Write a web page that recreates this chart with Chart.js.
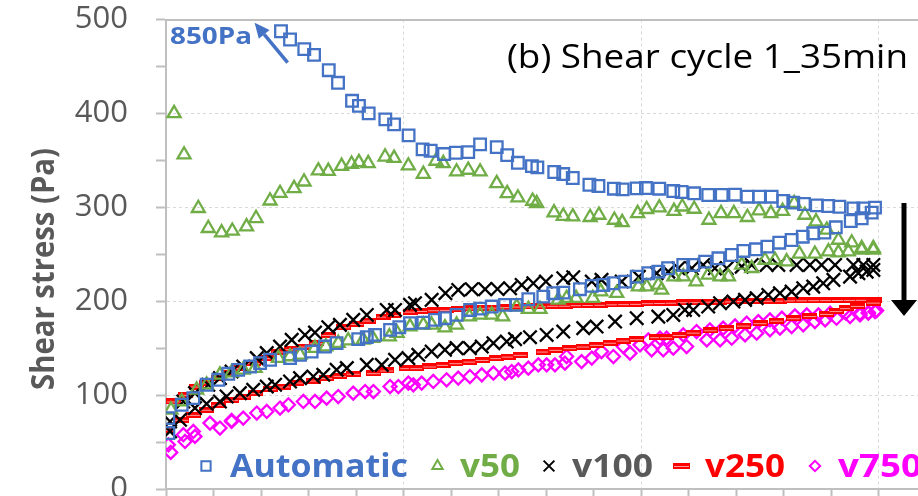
<!DOCTYPE html>
<html><head><meta charset="utf-8">
<script src="https://cdn.jsdelivr.net/npm/chart.js@4.4.1/dist/chart.umd.min.js"></script>
<style>html,body{margin:0;padding:0;background:#fff;overflow:hidden}#wrap{width:918px;height:496px;position:relative}</style>
</head><body><div id="wrap"><canvas id="c" width="918" height="496"></canvas></div>
<script>
// ---------------- data (x = shear rate units, y = shear stress Pa) ----------------
const seriesNames = ['Automatic', 'v50', 'v100', 'v250', 'v750'];
const yTickLabels = ['0', '100', '200', '300', '400', '500'];
const chartTitle = '(b) Shear cycle 1_35min';
const yAxisTitle = 'Shear stress (Pa)';
const offChartNote = '850Pa';

const autoX = [48.4,52.2,58.2,62.3,68.5,72.4,78.3,81.2,85.3,92.3,96,102.1,108,111.4,117,122,127.2,132.2,139.2,143.6,148.1,154,156.3,163.4,167.2,171.2,178.2,182,188.5,192.2,198.1,202,207.6,213.5,217,222.3,228.2,233.9,239.5,244.7,249.7,254.9,259.8,264,268.5,273.9,278.7,283.4,289.3,293.5,298.4,
  1,1,6.6,11.5,17.1,22,26.2,30.4,35.4,39.6,43.8,52.2,56.4,61.3,66.9,71.8,80.9,84.5,88,94.3,98.2,102.7,108.3,113.2,117.4,122.3,128,132.2,137.1,142.7,147.3,152.5,158.8,163,167.2,174.2,179.2,184.1,188.3,193.2,198.1,203,207.2,211.3,217.7,221.9,226.9,232.5,238.1,243,248.3,253.1,258.1,263.3,268,272.4,277.1,281.9,288.2,292.8,297];
const autoY = [487.5,478.7,468.4,462.3,446,432.6,413.4,408,400,393.6,388.3,376.6,361.7,360.2,356.7,358.1,358.8,367,364.1,355.6,347.4,343.9,342.5,337.6,335.4,331.2,324,322.7,319.8,319.1,320.2,320.5,319.8,317.3,316.3,314.9,313.1,313.1,313.4,311.3,311.3,311.3,306.7,305,303.5,302.1,301.4,300.6,298.9,298.9,299.6,
  59.6,75.5,89.7,96.8,111,116.3,122.7,126.9,130.4,134,137.6,139.4,142.9,146.4,151.7,155.3,159.6,161.7,164.1,169.5,172.3,176.6,177.2,180.1,181.9,185.4,190.7,192.1,194.3,196.1,196.1,202.1,204.9,208.5,209.1,212.8,216.3,217.3,219.1,220.9,226.2,229.8,231.5,235.1,238.6,238.6,242.1,245.7,249.2,253.5,255.3,258.1,262.3,265.2,268.7,272.3,273,278.7,285.4,288.3,294.3];

const v50X = [3.4,7.6,13.6,17.8,23.4,27.9,33.9,37.9,43.8,48,53.9,58.1,64.1,68.3,73.9,78.1,81.2,85.1,92.2,96,102,108.3,113.6,116.7,122.3,127.2,132.2,139.2,143.6,148.1,154.3,156,163.3,167.2,171.2,178.5,182.2,188.7,192,198.5,202.3,207.6,213.8,217.3,222.3,228.5,233.6,239,244.7,249.6,254.6,259.5,264.4,268.9,273.6,278.1,283,288.6,292.8,297.7,
  2.1,6.6,12.9,17.1,22.7,27.6,32.5,37.5,47.3,52.2,56.4,62.7,67.3,72.5,76.7,83,87,94,97.3,102.7,108.3,111.8,117.4,122.3,127.7,132.2,137.1,141.7,147.6,152.5,157.4,165.1,168.6,172.6,179.6,183,189.7,198.8,202.3,207.2,208.6,213.8,217.7,223.1,228.2,233.2,236.7,242.3,246.5,252.1,256.3,261.2,266.6,273.1,278.8,283,287.2,292.8,297.7];
const v50Y = [400,356,299,277.7,273,274.8,279.4,288.3,307,315,320.2,327.2,339,338.6,343.9,346.1,347.9,346.8,353.8,352.4,344.3,335.4,349.3,346.8,337.9,339.7,337.9,325.5,314.9,310.2,306.7,304.3,294.3,290.7,290,289.4,291.8,286.5,284,293.6,297.9,299.6,296,300.6,298.2,286.5,293.6,293.6,289.4,296.4,293.6,296,304.3,291.8,284.7,275.9,265.2,262.3,256.4,256.4,
  84.4,93.2,105.6,111,121.6,124,126.9,128.7,139.4,141.1,142.9,150,151.7,155.3,158.1,158.8,160.6,162.3,166,173,174.8,174.8,171.9,174.8,183.6,185.4,185.4,183.6,194.3,191.5,191.5,201.4,203.2,203.2,203.2,210.2,208.5,215.5,215.5,217.3,212,226.2,226.2,220.9,228,226.2,226.2,238.6,235.1,243.9,243.9,242.1,250.3,250.3,252.8,251.7,252.8,254.6,254.6];

const v100X = [1.7,7.3,12.2,17.8,22.7,27.6,32.5,38.2,42.4,48,52.9,58.5,62.7,68.3,73.2,78.8,84.5,92.9,96.4,102.7,104.8,111.8,117.6,123,128.7,134.3,139.5,144.8,149.7,154.6,159.9,167.2,171.4,179.2,183.3,191.8,199,206.5,211.4,215.6,221.3,226.1,231,236,242.3,246.5,252.8,257.7,265.4,271,275.9,281.6,289.3,293.5,297.7,
  1.7,5.9,12.2,17.1,22.7,25.5,31.1,36.7,42.4,45.9,52.2,56.4,62,66.2,71.8,76.1,84.5,90.8,96.4,102,106.2,111.8,117.4,122.3,127.9,132.9,137.8,143.4,146.9,153.2,160.2,167.2,175.6,181.2,189,198.1,207.2,213.5,218.4,221.9,228.2,233.2,238.8,243.7,248.6,253.5,258.4,263.3,268.2,272.4,276.6,280.9,287.9,291.4,294.9,297.7];
const v100Y = [71.9,93.2,102.1,111,118.1,125.1,130.4,139.4,144.7,151.7,158.8,164.1,166.6,172.3,174.8,180.1,185.4,190.7,190.7,196.1,197.9,201.4,208.5,212,212.8,212.8,213,213.8,217.3,219.1,220.9,224.5,225.5,220.9,222.7,220.9,226,229.8,231.5,235.1,235.1,238.6,235.1,235.1,236.8,238.6,238.6,238.6,238.6,238.6,238.6,238.6,238.6,238.6,238.6,
  61.3,73.7,86.2,90.7,93.2,98.5,102.1,105.6,109.1,111,114.5,118.1,119.8,121.6,126.9,128.7,132.2,132.2,137.6,139.4,142.9,146.4,148.2,150,150,151.7,155.3,157,159.6,161.7,164.1,167.7,171.3,173,178.3,181.9,183.6,185.4,190.7,190.7,194.3,197.9,199.6,201.4,203.2,206.7,208.5,210.2,213.8,215.5,219.1,222.7,226.2,229.8,231.5,233.3];

const v250X = [3.1,8,12.9,17.1,22,26.9,31.1,36.7,42.4,47.3,52.9,57.8,63.4,68.3,74.6,80.3,85.2,91.5,95.7,102.7,108,113,118,123,128,133,138,143,148,153,158,163,168,173,178,183,188,193,198,203,208,213,218,223,228,233,238,243,248,253,258,263,268,273,278,283,288,293,298,
  0.3,6.6,11.5,17.1,22,27.6,32.5,37.5,43.8,49.4,55,62,67.6,73.2,78.8,87.3,92.9,101.3,105.5,111,116.7,122,127.9,133,139.2,144,149,158.8,164,170,175.6,181.2,187,192.5,198,206.5,210.7,216,221.9,229,236,243,250,257,264,271,278,282,286.4,291,297.7];
const v250Y = [93.2,100.3,109.1,112.8,118.1,123.4,128.7,134,139.4,146.4,148.9,151.7,155.3,164.1,172.3,175.9,179.4,183.6,185.4,188.9,189.6,190.4,190.8,191.5,192.3,192.6,193.2,193.7,194.3,194.4,194.6,195.1,195.2,195.8,196,196.2,196.7,196.9,197.2,197.9,198.1,198.4,198.9,199,199.5,199.5,199.8,200.1,200.2,200.5,200.6,200.9,201,201.1,201.2,201.3,201.4,201.5,201.4,
  63.1,73.7,79,84.4,89.7,95,98.5,102.1,106.4,109.1,113.4,115.5,118.1,120.5,122.7,123.4,126.2,128.7,128.7,130.5,132.2,134,135.7,137.5,139.4,141,142.9,146.4,148.2,150,151.7,153.5,155.8,158.1,159.5,161.7,161.7,164,166.6,169,171.3,174,176.6,179.3,181.9,184.2,186.5,189.5,192.6,195,198.5];

const v750X = [1,8,12.2,22.7,27.6,32.5,42.4,51.5,62.7,72.5,83.8,94.3,104.1,112.5,123,132.9,142.7,148.3,156.7,163.7,174.9,188.3,195.3,204.4,209.3,213.5,219.1,227.6,233.2,238.1,243.7,248.6,254.2,258.4,263.3,268.2,273.1,277.4,282.2,287.9,292.1,295.6,298.4,
  2,7.3,11.5,18.5,27.6,38.2,48,57.8,67.6,78.8,87.3,97.8,102,107.6,118.1,127.9,137.8,145.5,152.5,160.2,167.9,168.6,179.2,183.3,192.5,199.5,203,207.9,210.7,217.7,223.3,228.9,234.5,239.5,244.4,249.3,254.2,259.2,264.7,269.7,274.6,279.5,286,292.1,295.6,299.1];
const v750Y = [47,50.6,56,64.9,71.9,75.5,82.6,89.7,93.2,98.5,103.8,109.1,111,114.5,118.1,121.6,123.4,126.9,132.2,132.2,135.7,141.1,144.7,148.2,148.2,150,151.7,158.8,158.8,160.6,164.1,166,169.5,171.3,173,174.8,178.3,180.1,181.9,183.6,185.4,187.2,188.9,
  39,57.8,61.3,70.2,73,80.9,86.2,93.2,96.8,102.1,103.8,109.1,112.8,112.8,116.3,119.8,123.4,125.1,128.7,132.2,134,141.1,139.4,146.4,151.7,153.5,158.8,160.6,160.6,164.1,167.7,169.5,171.3,173.7,176.6,178.3,180.1,181.9,184.4,185.4,185.4,187.2,187.5,187.2,187.9,190];

// ---------------- styling ----------------
const BLUE = '#4472C4', GREEN = '#70AD47', RED = '#FF0000', MAG = '#FF00FF';
const GRID = '#d9d9d9', AXIS = '#bfbfbf', LABEL = '#595959';

function dashMarker(w, h) {
  const c = document.createElement('canvas');
  c.width = w; c.height = h;
  const g = c.getContext('2d');
  g.fillStyle = RED; g.fillRect(0, 0, w, h);
  g.fillStyle = '#ff9a9a'; g.fillRect(1, Math.floor(h / 2), w - 2, 1);
  return c;
}
const redDash = dashMarker(15, 6);
const redDashLegend = dashMarker(17, 6);

function pts(xs, ys) { return xs.map((x, i) => ({x: x, y: ys[i]})); }

const datasets = [
  {label: seriesNames[0], data: pts(autoX, autoY), pointStyle: 'rect', pointRadius: 8.2, borderColor: BLUE, backgroundColor: 'rgba(0,0,0,0)', pointBorderWidth: 2.3},
  {label: seriesNames[1], data: pts(v50X, v50Y), pointStyle: 'triangle', pointRadius: 7.5, borderColor: GREEN, backgroundColor: 'rgba(0,0,0,0)', pointBorderWidth: 2.3},
  {label: seriesNames[2], data: pts(v100X, v100Y), pointStyle: 'crossRot', pointRadius: 9.5, borderColor: '#000', backgroundColor: 'rgba(0,0,0,0)', pointBorderWidth: 2.3},
  {label: seriesNames[3], data: pts(v250X, v250Y), pointStyle: redDash, pointRadius: 7, borderColor: RED, backgroundColor: RED, pointBorderWidth: 1},
  {label: seriesNames[4], data: pts(v750X, v750Y), pointStyle: 'rectRot', pointRadius: 6.5, borderColor: MAG, backgroundColor: 'rgba(0,0,0,0)', pointBorderWidth: 2.3}
];
datasets.forEach(d => { d.showLine = false; d.pointHoverRadius = d.pointRadius; });

const XMAX = (918 - 166) / 2.376;

function drawText(ctx, txt, x, y, font, color, targetW) {
  ctx.save();
  ctx.font = font; ctx.fillStyle = color; ctx.textBaseline = 'alphabetic'; ctx.textAlign = 'left';
  const w = ctx.measureText(txt).width;
  const sx = targetW ? targetW / w : 1;
  ctx.translate(x, y); ctx.scale(sx, 1);
  ctx.fillText(txt, 0, 0);
  ctx.restore();
}

const annotations = {
  id: 'annotations',
  afterDraw(chart) {
    const ctx = chart.ctx;
    const xs = chart.scales.x, ys = chart.scales.y;
    // title
    drawText(ctx, chartTitle, 507, 68, '32px "Open Sans"', '#000', 401);
    // 850Pa note + arrow
    drawText(ctx, offChartNote, 170, 44, 'bold 24px "Open Sans"', BLUE, 82);
    ctx.save();
    ctx.strokeStyle = BLUE; ctx.fillStyle = BLUE; ctx.lineWidth = 3.5;
    const ax0 = xs.getPixelForValue(51.2), ay0 = ys.getPixelForValue(454);
    const ax1 = xs.getPixelForValue(37.3), ay1 = ys.getPixelForValue(496.5);
    const ang = Math.atan2(ay1 - ay0, ax1 - ax0);
    const hl = 15, hw = 7;
    const bx = ax1 - Math.cos(ang) * hl, by = ay1 - Math.sin(ang) * hl;
    ctx.beginPath(); ctx.moveTo(ax0, ay0); ctx.lineTo(bx, by); ctx.stroke();
    ctx.beginPath(); ctx.moveTo(ax1, ay1);
    ctx.lineTo(bx + Math.sin(ang) * hw, by - Math.cos(ang) * hw);
    ctx.lineTo(bx - Math.sin(ang) * hw, by + Math.cos(ang) * hw);
    ctx.closePath(); ctx.fill();
    ctx.restore();
    // down arrow (decreasing trend)
    ctx.save();
    ctx.strokeStyle = '#000'; ctx.fillStyle = '#000'; ctx.lineWidth = 5;
    ctx.beginPath(); ctx.moveTo(904, 203); ctx.lineTo(904, 302); ctx.stroke();
    ctx.beginPath(); ctx.moveTo(891, 300); ctx.lineTo(917, 300); ctx.lineTo(904, 316); ctx.closePath(); ctx.fill();
    ctx.restore();
    // y axis title
    ctx.save();
    ctx.translate(54, 269); ctx.rotate(-Math.PI / 2);
    ctx.font = 'bold 27px "Open Sans"';
    const tw = ctx.measureText(yAxisTitle).width;
    ctx.scale(242 / tw, 1.22);
    ctx.fillStyle = LABEL; ctx.textBaseline = 'alphabetic'; ctx.textAlign = 'center';
    ctx.fillText(yAxisTitle, 0, 0);
    ctx.restore();
    // legend
    const items = [
      {mx: 206, tx: 230, tw: 178, color: BLUE},
      {mx: 437.5, tx: 460, tw: 60, color: GREEN},
      {mx: 549, tx: 572, tw: 81, color: LABEL},
      {mx: 681.5, tx: 705, tw: 80, color: RED},
      {mx: 815, tx: 838, tw: 84, color: MAG}
    ];
    items.forEach((it, i) => {
      const ds = chart.data.datasets[i];
      ctx.save();
      ctx.strokeStyle = ds.borderColor; ctx.fillStyle = ds.backgroundColor;
      ctx.lineWidth = 2;
      const ps = (i === 3) ? redDashLegend : ds.pointStyle;
      Chart.helpers.drawPoint(ctx, {pointStyle: ps, radius: ds.pointRadius * 0.8, borderWidth: 2, rotation: 0}, it.mx, 466);
      ctx.restore();
      drawText(ctx, ds.label, it.tx, 476.5, 'bold 32px "Open Sans"', it.color, it.tw);
    });
  }
};

new Chart(document.getElementById('c'), {
  type: 'scatter',
  data: {datasets: datasets},
  options: {
    responsive: false, animation: false, devicePixelRatio: 1,
    layout: {padding: {top: 19.5, right: 0, left: 0, bottom: 0}, autoPadding: false},
    plugins: {legend: {display: false}, tooltip: {enabled: false}},
    scales: {
      x: {
        type: 'linear', position: 'bottom', min: 0, max: XMAX,
        ticks: {display: false, stepSize: 20, includeBounds: false},
        grid: {
          color: c => (c.tick && c.tick.value > 0 && Math.abs(c.tick.value % 100) < 1e-6) ? GRID : 'rgba(0,0,0,0)',
          lineWidth: 1, drawTicks: true, tickLength: 7, tickColor: AXIS, tickWidth: 2, tickBorderDash: []
        },
        border: {display: true, color: AXIS, width: 2, dash: [3, 3]},
        afterFit: s => { s.height = 7; s.paddingLeft = 0; s.paddingRight = 0; }
      },
      x2: {
        type: 'linear', position: 'top', min: 0, max: XMAX, display: true,
        ticks: {display: false},
        grid: {drawOnChartArea: false, drawTicks: false},
        border: {display: true, color: AXIS, width: 2},
        afterFit: s => { s.height = 0; s.paddingLeft = 0; s.paddingRight = 0; }
      },
      y: {
        type: 'linear', min: 0, max: 500,
        ticks: {
          stepSize: 50, padding: 28, color: LABEL,
          font: {family: '"Open Sans"', size: 31, lineHeight: 1},
          callback: v => (v % 100 === 0 ? yTickLabels[v / 100] : '')
        },
        grid: {
          color: c => (c.tick && c.tick.value > 0 && c.tick.value < 500 && c.tick.value % 100 === 0) ? GRID : 'rgba(0,0,0,0)',
          lineWidth: 1, tickLength: 10, tickColor: AXIS, tickWidth: 2, tickBorderDash: []
        },
        border: {display: true, color: AXIS, width: 2, dash: [3, 3]},
        afterFit: s => { s.width = 166; s.paddingTop = 0; s.paddingBottom = 0; }
      }
    }
  },
  plugins: [annotations]
});
</script></body></html>
